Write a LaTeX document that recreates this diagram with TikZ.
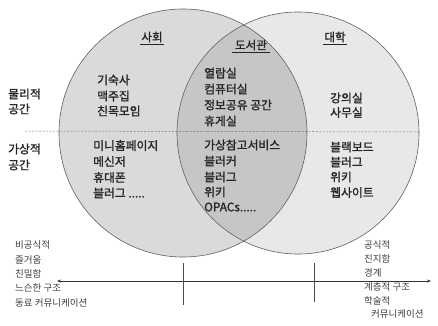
\documentclass[tikz,border=0pt]{standalone}
\usepackage{fontspec}
\setmainfont{Noto Sans CJK KR}
\newfontfamily\midfont{Noto Sans CJK KR}[FakeBold=1.5]
\usetikzlibrary{arrows.meta}
\definecolor{leftfill}{HTML}{DADADA}
\definecolor{rightfill}{HTML}{E8E8E8}
\definecolor{midfill}{HTML}{C6C6C6}
\definecolor{edgec}{HTML}{606060}
\tikzset{
  lbl/.style={anchor=west, inner sep=0pt, font=\midfont\fontsize{11.8}{13}\selectfont, text=black!85},
  small/.style={anchor=west, inner sep=0pt, font=\fontsize{9.5}{11}\selectfont, text=black!75},
  head/.style={anchor=center, inner sep=0pt, font=\midfont\fontsize{11.5}{13}\selectfont, text=black!85},
  uline/.style={draw=black!85, line width=0.8pt},
  circ/.style={draw=edgec, line width=0.6pt},
  tick/.style={draw=black!70, line width=0.6pt}
}
\begin{document}
\begin{tikzpicture}[x=1pt,y=-1pt]
\useasboundingbox (0,0) rectangle (438,325);
\fill[white] (0,0) rectangle (438,325);
% circles
\coordinate (cl) at (183,133);
\coordinate (cr) at (298,133);
\fill[leftfill] (cl) circle (124);
\fill[rightfill] (cr) circle (121);
\begin{scope}
  \clip (cl) circle (124);
  \fill[midfill] (cr) circle (121);
\end{scope}
\draw[circ] (cl) circle (124);
\draw[circ] (cr) circle (121);
% dashed separator
\coordinate (dl) at (25,131);
\coordinate (dr) at (420,132);
\draw[black!55, dash pattern=on 2pt off 1.5pt, line width=0.5pt] (dl) -- (dr);
% headings
\node[head] (h1) at (152,37) {사회};
\node[head] (h2) at (251,45) {도서관};
\node[head] (h3) at (335,37) {대학};
\coordinate (u1a) at (140,44); \coordinate (u1b) at (164,44);
\coordinate (u2a) at (232,52); \coordinate (u2b) at (270,52);
\coordinate (u3a) at (323,44); \coordinate (u3b) at (347,44);
\draw[uline] (u1a) -- (u1b);
\draw[uline] (u2a) -- (u2b);
\draw[uline] (u3a) -- (u3b);
% row labels
\node[lbl] (p1) at (8,94) {물리적};
\node[lbl] (p2) at (8,109) {공간};
\node[lbl] (v1) at (8,149) {가상적};
\node[lbl] (v2) at (8,165) {공간};
% society
\node[lbl] (s1) at (97,80) {기숙사};
\node[lbl] (s2) at (97,96) {맥주집};
\node[lbl] (s3) at (97,111) {친목모임};
\node[lbl] (s4) at (93,145.5) {미니홈페이지};
\node[lbl] (s5) at (93,161.5) {메신저};
\node[lbl] (s6) at (93,177.5) {휴대폰};
\node[lbl] (s7) at (93,193) {블러그 .....};
% library
\node[lbl] (l1) at (204,73) {열람실};
\node[lbl] (l2) at (204,89) {컴퓨터실};
\node[lbl] (l3) at (204,105) {정보공유 공간};
\node[lbl] (l4) at (204,121) {휴게실};
\node[lbl] (l5) at (204,145) {가상참고서비스};
\node[lbl] (l6) at (204,161) {블러커};
\node[lbl] (l7) at (204,177) {블러그};
\node[lbl] (l8) at (204,192) {위키};
\node[lbl] (l9) at (204,207) {OPACs.....};
% university
\node[lbl] (un1) at (330,98) {강의실};
\node[lbl] (un2) at (330,112.5) {사무실};
\node[lbl] (un3) at (330,147) {블랙보드};
\node[lbl] (un4) at (330,162) {블러그};
\node[lbl] (un5) at (330,177) {위키};
\node[lbl] (un6) at (330,192.5) {웹사이트};
% axis
\coordinate (al) at (57,281);
\coordinate (ar) at (431,281);
\draw[black!80, line width=0.6pt, {Stealth[length=4pt,width=3pt]}-{Stealth[length=4pt,width=3pt]}] (al) -- (ar);
\coordinate (t1a) at (183,263);
\coordinate (t1b) at (183,305);
\coordinate (t2a) at (314,263);
\coordinate (t2b) at (314,302);
\draw[tick] (t1a) -- (t1b);
\draw[tick] (t2a) -- (t2b);
% left bottom text
\node[small] (b1) at (15,245) {비공식적};
\node[small] (b2) at (15,260) {즐거움};
\node[small] (b3) at (15,274) {친밀함};
\node[small] (b4) at (15,288) {느슨한 구조};
\node[small] (b5) at (15,303) {동료 커뮤니케이션};
% right bottom text
\node[small] (r1) at (364,245) {공식적};
\node[small] (r2) at (364,259) {진지함};
\node[small] (r3) at (364,272.5) {경계};
\node[small] (r4) at (364,287) {계층적 구조};
\node[small] (r5) at (364,300.5) {학술적};
\node[small] (r6) at (371,314) {커뮤니케이션};
\end{tikzpicture}
\end{document}
